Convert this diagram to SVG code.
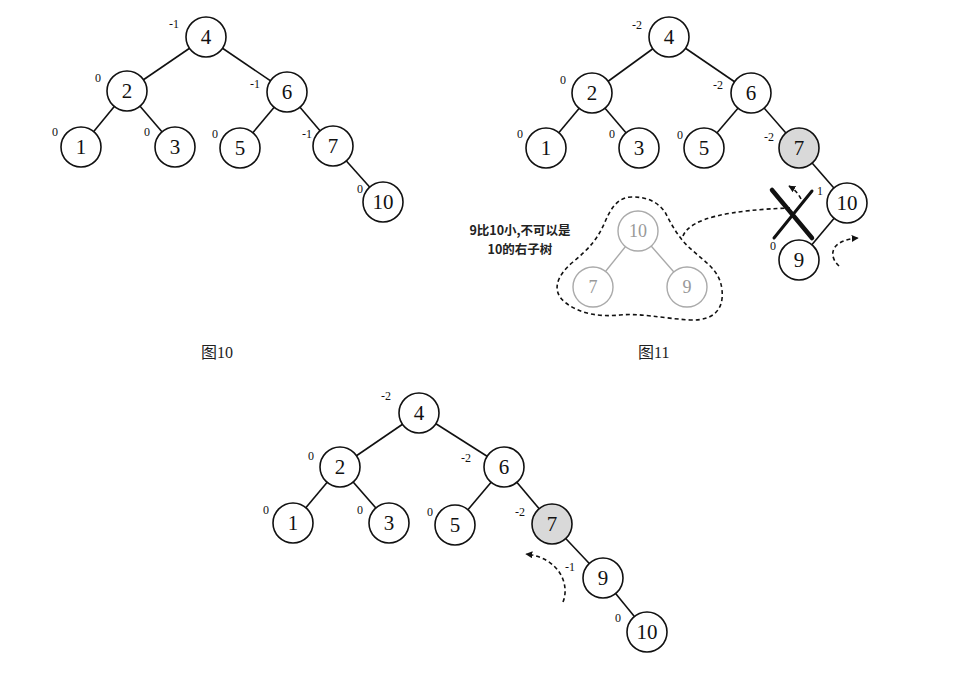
<svg xmlns="http://www.w3.org/2000/svg" width="967" height="679" viewBox="0 0 967 679">
<defs>
<style>
.n circle{fill:#fff;stroke:#111;stroke-width:1.6}
.n.g circle{fill:#d9d9d9}
.n text{font-family:"Liberation Serif",serif;font-size:21px;fill:#111;text-anchor:middle;dominant-baseline:central}
.gh circle{fill:#fff;stroke:#aaa;stroke-width:1.4}
.gh text{font-family:"Liberation Serif",serif;font-size:18px;fill:#999;text-anchor:middle;dominant-baseline:central}
.b{font-family:"Liberation Serif",serif;font-size:12px;fill:#111}
.e line{stroke:#111;stroke-width:1.6}
.ge line{stroke:#aaa;stroke-width:1.4}
.d{fill:none;stroke:#111;stroke-width:1.6;stroke-dasharray:4 3}
.cap{font-family:"Liberation Serif","Noto Sans CJK SC",serif;font-size:16px;fill:#222}
.note{font-family:"Noto Sans CJK SC",sans-serif;font-size:12.5px;font-weight:bold;fill:#222;text-anchor:middle}
</style>
<marker id="ah" viewBox="0 0 10 10" refX="9" refY="5" markerWidth="7" markerHeight="7" orient="auto" markerUnits="userSpaceOnUse">
<path d="M0,0 L10,5 L0,10 z" fill="#111"/>
</marker>
</defs>
<rect width="967" height="679" fill="#fff"/>

<g id="connectors">
<g class="e">
<line x1="206" y1="37" x2="127" y2="91"/>
<line x1="206" y1="37" x2="287" y2="92"/>
<line x1="127" y1="91" x2="81" y2="147"/>
<line x1="127" y1="91" x2="175" y2="147"/>
<line x1="287" y1="92" x2="240" y2="148"/>
<line x1="287" y1="92" x2="333" y2="146"/>
<line x1="333" y1="146" x2="383" y2="202"/>

<line x1="669" y1="37" x2="592" y2="93"/>
<line x1="669" y1="37" x2="751" y2="93"/>
<line x1="592" y1="93" x2="546" y2="148"/>
<line x1="592" y1="93" x2="639" y2="148"/>
<line x1="751" y1="93" x2="704" y2="148"/>
<line x1="751" y1="93" x2="799" y2="148"/>
<line x1="799" y1="148" x2="847" y2="203"/>
<line x1="847" y1="203" x2="799" y2="260"/>

<line x1="419" y1="413" x2="340" y2="467"/>
<line x1="419" y1="413" x2="504" y2="467"/>
<line x1="340" y1="467" x2="293" y2="523"/>
<line x1="340" y1="467" x2="389" y2="523"/>
<line x1="504" y1="467" x2="455" y2="525"/>
<line x1="504" y1="467" x2="552" y2="524"/>
<line x1="552" y1="524" x2="603" y2="578"/>
<line x1="603" y1="578" x2="647" y2="632"/>
</g>
<g class="ge">
<line x1="638" y1="231" x2="593" y2="287"/>
<line x1="638" y1="231" x2="687" y2="287"/>
</g>
<path class="d" d="M683,236 C690,218 730,210 790,208"/>
<path class="d" d="M801,199 C798,193 794,189 789,186" marker-end="url(#ah)"/>
<path class="d" d="M839,266 C828,256 830,240 858,238" marker-end="url(#ah)"/>
<path class="d" d="M563,602 C570,585 560,558 526,554" marker-end="url(#ah)"/>
<path class="d" d="M632,197 C620,197 612,205 605,222 C598,238 590,248 573,262 C556,276 551,292 566,303 C580,314 600,317 620,315 C640,313 660,318 690,320 C715,321 724,308 722,290 C720,270 705,262 692,250 C680,240 672,226 665,212 C656,200 645,197 632,197 Z"/>
</g>

<g id="tree10">
<g id="a4" class="n"><circle cx="206" cy="37" r="20"/><text x="206" y="37">4</text></g>
<g id="a2" class="n"><circle cx="127" cy="91" r="20"/><text x="127" y="91">2</text></g>
<g id="a6" class="n"><circle cx="287" cy="92" r="20"/><text x="287" y="92">6</text></g>
<g id="a1" class="n"><circle cx="81" cy="147" r="20"/><text x="81" y="147">1</text></g>
<g id="a3" class="n"><circle cx="175" cy="147" r="20"/><text x="175" y="147">3</text></g>
<g id="a5" class="n"><circle cx="240" cy="148" r="20"/><text x="240" y="148">5</text></g>
<g id="a7" class="n"><circle cx="333" cy="146" r="20"/><text x="333" y="146">7</text></g>
<g id="a10" class="n"><circle cx="383" cy="202" r="20"/><text x="383" y="202">10</text></g>
<text class="b" x="169" y="28">-1</text>
<text class="b" x="95" y="82">0</text>
<text class="b" x="250" y="88">-1</text>
<text class="b" x="52" y="136">0</text>
<text class="b" x="144" y="136">0</text>
<text class="b" x="212" y="138">0</text>
<text class="b" x="302" y="138">-1</text>
<text class="b" x="357" y="193">0</text>
<text class="cap" x="201" y="358">图10</text>
</g>

<g id="tree11">
<g id="b4" class="n"><circle cx="669" cy="37" r="20"/><text x="669" y="37">4</text></g>
<g id="b2" class="n"><circle cx="592" cy="93" r="20"/><text x="592" y="93">2</text></g>
<g id="b6" class="n"><circle cx="751" cy="93" r="20"/><text x="751" y="93">6</text></g>
<g id="b1" class="n"><circle cx="546" cy="148" r="20"/><text x="546" y="148">1</text></g>
<g id="b3" class="n"><circle cx="639" cy="148" r="20"/><text x="639" y="148">3</text></g>
<g id="b5" class="n"><circle cx="704" cy="148" r="20"/><text x="704" y="148">5</text></g>
<g id="b7" class="n g"><circle cx="799" cy="148" r="20"/><text x="799" y="148">7</text></g>
<g id="b10" class="n"><circle cx="847" cy="203" r="20"/><text x="847" y="203">10</text></g>
<g id="b9" class="n"><circle cx="799" cy="260" r="20"/><text x="799" y="260">9</text></g>
<text class="b" x="632" y="29">-2</text>
<text class="b" x="560" y="84">0</text>
<text class="b" x="713" y="89">-2</text>
<text class="b" x="517" y="138">0</text>
<text class="b" x="609" y="138">0</text>
<text class="b" x="677" y="139">0</text>
<text class="b" x="764" y="141">-2</text>
<text class="b" x="817" y="195">1</text>
<text class="b" x="770" y="250">0</text>
<g id="ghost10" class="gh"><circle cx="638" cy="231" r="20"/><text x="638" y="231">10</text></g>
<g id="ghost7" class="gh"><circle cx="593" cy="287" r="20"/><text x="593" y="287">7</text></g>
<g id="ghost9" class="gh"><circle cx="687" cy="287" r="20"/><text x="687" y="287">9</text></g>
<g id="xmark">
<line x1="772" y1="190" x2="812" y2="238" stroke="#111" stroke-width="4.5" stroke-linecap="round"/>
<line x1="812" y1="191" x2="774" y2="238" stroke="#111" stroke-width="3" stroke-linecap="round"/>
</g>
<text class="note" x="520" y="235">9比10小,不可以是</text>
<text class="note" x="520" y="254">10的右子树</text>
<text class="cap" x="638" y="358">图11</text>
</g>

<g id="tree12">
<g id="c4" class="n"><circle cx="419" cy="413" r="20"/><text x="419" y="413">4</text></g>
<g id="c2" class="n"><circle cx="340" cy="467" r="20"/><text x="340" y="467">2</text></g>
<g id="c6" class="n"><circle cx="504" cy="467" r="20"/><text x="504" y="467">6</text></g>
<g id="c1" class="n"><circle cx="293" cy="523" r="20"/><text x="293" y="523">1</text></g>
<g id="c3" class="n"><circle cx="389" cy="523" r="20"/><text x="389" y="523">3</text></g>
<g id="c5" class="n"><circle cx="455" cy="525" r="20"/><text x="455" y="525">5</text></g>
<g id="c7" class="n g"><circle cx="552" cy="524" r="20"/><text x="552" y="524">7</text></g>
<g id="c9" class="n"><circle cx="603" cy="578" r="20"/><text x="603" y="578">9</text></g>
<g id="c10" class="n"><circle cx="647" cy="632" r="20"/><text x="647" y="632">10</text></g>
<text class="b" x="381" y="400">-2</text>
<text class="b" x="308" y="460">0</text>
<text class="b" x="461" y="462">-2</text>
<text class="b" x="263" y="514">0</text>
<text class="b" x="357" y="514">0</text>
<text class="b" x="427" y="516">0</text>
<text class="b" x="515" y="516">-2</text>
<text class="b" x="565" y="571">-1</text>
<text class="b" x="615" y="622">0</text>
</g>
</svg>
